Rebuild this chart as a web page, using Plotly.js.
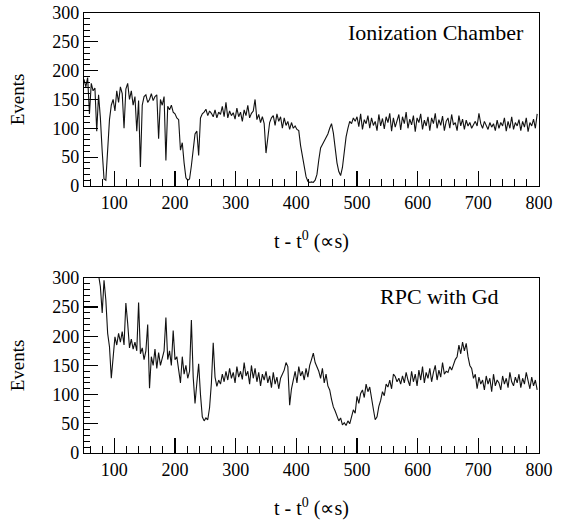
<!DOCTYPE html>
<html>
<head>
<meta charset="utf-8">
<script src="https://cdn.plot.ly/plotly-3.0.1.min.js"></script>
<style>html,body{margin:0;padding:0;background:#fff;}#chart{width:566px;height:520px;}</style>
</head>
<body>
<div id="chart"></div>
<script>
// Histogram binning (bin left edges), t - t0 in units of the x axis
const binStart = 50;
const binWidth = 3;

// Top panel: Ionization Chamber, events per bin
const ionChamberEvents = [
  185, 172, 188, 125, 178, 165, 170, 95, 158, 118,
  60, 12, 10, 55, 115, 140, 150, 130, 165, 145,
  172, 160, 100, 168, 178, 150, 165, 140, 155, 95,
  148, 33, 140, 155, 158, 145, 150, 160, 148, 155,
  158, 82, 150, 140, 155, 44, 138, 132, 140, 128,
  125, 118, 115, 62, 75, 40, 14, 10, 12, 35,
  62, 90, 95, 53, 118, 125, 128, 133, 122, 130,
  126, 120, 132, 118, 128, 124, 138, 120, 145, 118,
  130, 122, 127, 116, 135, 120, 128, 112, 132, 122,
  140, 118, 126, 130, 150, 115, 124, 110, 120, 108,
  57, 85, 110, 118, 122, 105, 125, 112, 120, 100,
  118, 105, 112, 98, 110, 100, 104, 98, 96, 70,
  50, 30, 16, 8, 6, 7, 6, 10, 20, 45,
  66, 72, 78, 84, 90, 100, 108, 92, 60, 40,
  25, 18, 32, 60, 85, 100, 112, 108, 118, 112,
  120, 103, 125, 98, 115, 108, 122, 100, 118, 105,
  112, 96, 124, 104, 117, 99, 120, 110, 126, 95,
  118, 102, 114, 124, 97, 120, 108, 128, 100, 116,
  106, 122, 94, 118, 110, 125, 98, 114, 104, 120,
  96, 118, 108, 126, 100, 115, 105, 121, 96, 112,
  118, 100, 124, 106, 110, 96, 122, 104, 116, 98,
  114, 104, 110, 100, 106, 112, 104, 126, 108, 100,
  112, 105, 98, 110, 102, 108, 96, 114, 100, 110,
  104, 118, 95, 112, 100, 120, 98, 110, 104, 115,
  96, 112, 102, 118, 94, 110, 104, 116, 100, 125
];

// Bottom panel: RPC with Gd, events per bin
const rpcGdEvents = [
  315, 320, 318, 325, 315, 320, 318, 312, 305, 285,
  240, 296, 262, 205, 182, 128, 165, 199, 185, 205,
  190, 208, 185, 257, 222, 180, 195, 178, 190, 175,
  258, 170, 180, 160, 175, 220, 111, 165, 150, 178,
  145, 172, 150, 165, 175, 232, 160, 175, 150, 210,
  160, 165, 140, 120, 165, 135, 150, 128, 140, 228,
  130, 85, 120, 153, 100, 62, 55, 60, 57, 78,
  120, 189, 130, 114, 125, 118, 135, 122, 140, 125,
  145, 128, 138, 120, 148, 130, 140, 126, 155, 132,
  140, 118, 150, 128, 145, 122, 138, 115, 135, 125,
  140, 120, 132, 112, 138, 118, 130, 110, 128, 135,
  142, 155, 148, 82, 110, 125, 140, 120, 148, 132,
  140, 125, 145, 130, 150, 160, 171, 155, 148, 140,
  128, 145, 120, 135, 115, 108, 92, 79, 72, 62,
  55, 60, 48, 52, 47, 55, 50, 62, 74, 68,
  97, 85, 102, 108, 95, 118, 105, 113, 90, 75,
  57, 62, 80, 90, 105, 98, 118, 113, 125, 110,
  135, 131, 122, 128, 118, 132, 120, 138, 125, 115,
  140, 122, 135, 115, 142, 125, 148, 120, 138, 128,
  145, 122, 138, 150, 125, 142, 130, 155, 135, 140,
  138, 148, 142, 152, 160, 165, 185, 170, 190, 175,
  188, 165, 150, 145, 128, 135, 110, 130, 118, 125,
  108, 132, 118, 128, 105, 135, 115, 125, 120, 108,
  132, 118, 128, 112, 138, 122, 115, 130, 120, 135,
  112, 128, 118, 138, 125, 110, 130, 115, 125, 108
];

const xTickVals = [100, 200, 300, 400, 500, 600, 700, 800];
const yTickVals = [0, 50, 100, 150, 200, 250, 300];
const topLabel = "Ionization Chamber";
const bottomLabel = "RPC with Gd";
const xTitle = "t - t<sup>0</sup> (∝s)";
const yTitle = "Events";

const binEdges = ionChamberEvents.map((_, i) => binStart + i * binWidth);

const FONT = "Liberation Serif";
const lineStyle = {color: "#111", width: 1.1, shape: "linear"};

const traces = [
  {x: binEdges, y: ionChamberEvents, type: "scatter", mode: "lines", line: lineStyle, xaxis: "x", yaxis: "y", hoverinfo: "skip"},
  {x: binEdges, y: rpcGdEvents, type: "scatter", mode: "lines", line: lineStyle, xaxis: "x2", yaxis: "y2", hoverinfo: "skip"}
];

function xAxis(anchor) {
  return {
    anchor: anchor, domain: [0, 1], range: [50, 800],
    tickvals: xTickVals, ticks: "inside", ticklen: 15, tickwidth: 1.2, tickcolor: "#000",
    minor: {dtick: 20, tick0: 0, ticks: "inside", ticklen: 7, tickwidth: 1, tickcolor: "#000"},
    showline: true, linecolor: "#000", linewidth: 1.2, mirror: true,
    showgrid: false, zeroline: false,
    tickfont: {family: FONT, size: 18, color: "#000"},
    title: {text: xTitle, font: {family: FONT, size: 20, color: "#000"}, standoff: 22},
    fixedrange: true
  };
}
function yAxis(anchor, domain) {
  return {
    anchor: anchor, domain: domain, range: [0, 300],
    tickvals: yTickVals, ticks: "inside", ticklen: 14, tickwidth: 1.2, tickcolor: "#000",
    minor: {dtick: 10, tick0: 0, ticks: "inside", ticklen: 6, tickwidth: 1, tickcolor: "#000"},
    showline: true, linecolor: "#000", linewidth: 1.2, mirror: true,
    showgrid: false, zeroline: false,
    tickfont: {family: FONT, size: 18, color: "#000"},
    title: {text: yTitle, font: {family: FONT, size: 19, color: "#000"}, standoff: 22},
    fixedrange: true
  };
}

const layout = {
  width: 566, height: 520,
  margin: {l: 84, r: 27, t: 13, b: 67},
  paper_bgcolor: "#fff", plot_bgcolor: "#fff",
  showlegend: false,
  font: {family: FONT, color: "#000"},
  xaxis: xAxis("y"),
  yaxis: yAxis("x", [0.607, 1]),
  xaxis2: xAxis("y2"),
  yaxis2: yAxis("x2", [0, 0.398]),
  annotations: [
    {xref: "x", yref: "y", x: 778, y: 267, xanchor: "right", yanchor: "middle", text: topLabel, showarrow: false, font: {family: FONT, size: 22, color: "#000"}},
    {xref: "x2", yref: "y2", x: 738, y: 268, xanchor: "right", yanchor: "middle", text: bottomLabel, showarrow: false, font: {family: FONT, size: 22, color: "#000"}}
  ]
};

Plotly.newPlot("chart", traces, layout, {staticPlot: true, displayModeBar: false});
</script>
</body>
</html>
